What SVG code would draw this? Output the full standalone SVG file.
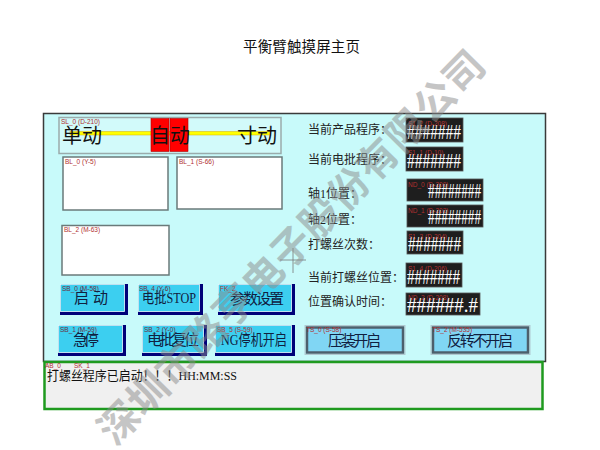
<svg xmlns="http://www.w3.org/2000/svg" width="600" height="450" viewBox="0 0 600 450">
<style>
.cn{font-family:"Liberation Serif","Noto Sans CJK SC",serif;fill:#111;}
.lbl{font-family:"Liberation Sans",sans-serif;font-size:6.5px;fill:#b03030;}
.slbl{font-family:"Liberation Sans",sans-serif;font-size:6.5px;fill:#6a3040;}
.hash{font-family:"Liberation Serif",serif;font-size:21px;fill:#fff;}
.disp{fill:#1e1e1e;stroke:#555;stroke-width:0.8;}
.bl{fill:#fff;stroke:#6a7a7a;stroke-width:1.5;}
.sbo{fill:#000078;}
.sbi{fill:#3ccff0;stroke:#e8ffff;stroke-width:0.8;}
.ts{fill:#80d6f4;stroke:#4d5f6c;stroke-width:2.5;}
.tso{fill:none;stroke:#b0c8d0;stroke-width:1;}
.btxt{font-size:15px;fill:#102040;}
.rl{font-size:12px;fill:#222;}
</style>
<rect width="600" height="450" fill="#fff"/>
<text class="cn" x="243" y="52" font-size="14.5" textLength="117">平衡臂触摸屏主页</text>

<g id="panel">
<rect x="43.5" y="113.5" width="502" height="248" fill="#c8fafa" stroke="#3a3a3a" stroke-width="1.5"/>
</g>

<g id="sl0">
<rect x="59" y="117.5" width="222" height="36" fill="#d2fafa" stroke="#9aabab" stroke-width="1.5"/>
<rect x="70" y="131.5" width="200" height="3.5" fill="#ffff00" stroke="#d8b000" stroke-width="0.5"/>
<rect x="151" y="118.5" width="18" height="33" fill="#ff0000" stroke="#b00000" stroke-width="0.6"/>
<rect x="170" y="118.5" width="18" height="33" fill="#ff0000" stroke="#b00000" stroke-width="0.6"/>
<text class="cn" x="62" y="143" font-size="20">单动</text>
<text class="cn" x="150" y="143" font-size="20">自动</text>
<text class="cn" x="237" y="143" font-size="20">寸动</text>
<text class="lbl" x="61" y="124">SL_0 (D-210)</text>
</g>

<g id="bl0"><rect class="bl" x="63" y="157" width="105" height="53"/><text class="lbl" x="65" y="164">BL_0 (Y-5)</text></g>
<g id="bl1"><rect class="bl" x="177" y="157" width="105" height="52"/><text class="lbl" x="179" y="164">BL_1 (S-66)</text></g>
<g id="bl2"><rect class="bl" x="62" y="225.5" width="107" height="49.5"/><text class="lbl" x="64" y="232">BL_2 (M-63)</text></g>

<g id="labels">
<text class="cn rl" x="308" y="134">当前产品程序：</text>
<text class="cn rl" x="308" y="164">当前电批程序：</text>
<text class="cn rl" x="308" y="198">轴1位置：</text>
<text class="cn rl" x="308" y="224">轴2位置：</text>
<text class="cn rl" x="308" y="249">打螺丝次数：</text>
<text class="cn rl" x="308" y="282">当前打螺丝位置：</text>
<text class="cn rl" x="308" y="306">位置确认时间：</text>
</g>

<g id="d1"><rect class="disp" x="406" y="118" width="57" height="24"/><text class="lbl" x="408" y="126" fill="#d02020">S1_2 (D-208)</text><text class="hash" x="407" y="139" textLength="54" lengthAdjust="spacingAndGlyphs">#######</text></g>
<g id="d2"><rect class="disp" x="406" y="147" width="57" height="24"/><text class="lbl" x="408" y="155">S1_1 (D-10)</text><text class="hash" x="407" y="168" textLength="54" lengthAdjust="spacingAndGlyphs">#######</text></g>
<g id="d3"><rect class="disp" x="407" y="179" width="76" height="22"/><text class="lbl" x="408" y="187">ND_0 (D-200)</text><text class="hash" x="428" y="198" textLength="53" lengthAdjust="spacingAndGlyphs">########</text></g>
<g id="d4"><rect class="disp" x="407" y="205" width="76" height="22"/><text class="lbl" x="408" y="213">ND_1 (D-202)</text><text class="hash" x="428" y="224" textLength="53" lengthAdjust="spacingAndGlyphs">########</text></g>
<g id="d5"><rect class="disp" x="407" y="231" width="56" height="23"/><text class="lbl" x="408" y="239">S1_3 (D-204)</text><text class="hash" x="408" y="251" textLength="53" lengthAdjust="spacingAndGlyphs">#######</text></g>
<g id="d6"><rect class="disp" x="406" y="263" width="56" height="24"/><text class="lbl" x="408" y="271">S1_4 (D-206)</text><text class="hash" x="407" y="284" textLength="53" lengthAdjust="spacingAndGlyphs">#######</text></g>
<g id="d7"><rect class="disp" x="406" y="293" width="74" height="22"/><text class="lbl" x="408" y="300">ND_2 (D-208)</text><text class="hash" x="407" y="312" textLength="71" lengthAdjust="spacingAndGlyphs">######.#</text></g>

<g id="sb0"><rect class="sbo" x="60" y="284" width="68" height="31"/><rect class="sbi" x="60.5" y="284.5" width="64" height="27"/><text class="slbl" x="62" y="291">SB_0 (M-58)</text><text class="cn btxt" x="74" y="303" textLength="34">启 动</text></g>
<g id="sb4"><rect class="sbo" x="138" y="284" width="65" height="31"/><rect class="sbi" x="138.5" y="284.5" width="61" height="27"/><text class="slbl" x="139" y="291">SB_4 (Y-6)</text><text class="cn btxt" x="142" y="303" textLength="54" lengthAdjust="spacingAndGlyphs">电批STOP</text></g>
<g id="fk2"><rect class="sbo" x="218" y="284" width="77" height="31"/><rect class="sbi" x="218.5" y="284.5" width="73" height="27"/><text class="lbl" x="220" y="291">FK_2</text><text class="cn btxt" x="230" y="304" textLength="54">参数设置</text></g>
<g id="sb1"><rect class="sbo" x="58" y="325" width="68" height="31"/><rect class="sbi" x="58.5" y="325.5" width="64" height="27"/><text class="slbl" x="60" y="332">SB_1 (M-59)</text><text class="cn btxt" x="73" y="345" textLength="26">急停</text></g>
<g id="sb2"><rect class="sbo" x="142" y="325" width="65" height="31"/><rect class="sbi" x="142.5" y="325.5" width="61" height="27"/><text class="slbl" x="144" y="332">SB_2 (Y-0)</text><text class="cn btxt" x="147" y="345" textLength="52">电批复位</text></g>
<g id="sb5"><rect class="sbo" x="215" y="325" width="80" height="31"/><rect class="sbi" x="215.5" y="325.5" width="76" height="27"/><text class="lbl" x="217" y="332">SB_5 (S-59)</text><text class="cn btxt" x="221" y="345" textLength="66" lengthAdjust="spacingAndGlyphs">NG停机开启</text></g>

<g id="ts0"><rect class="tso" x="305" y="325.5" width="100" height="29"/><rect class="ts" x="307" y="327.5" width="96" height="25"/><text class="lbl" x="306" y="332">TS_0 (S-58)</text><text class="cn btxt" x="328" y="346" textLength="53">压装开启</text></g>
<g id="ts2"><rect class="tso" x="431" y="325.5" width="99" height="29"/><rect class="ts" x="433" y="327.5" width="95" height="25"/><text class="lbl" x="432" y="332">TS_2 (M-535)</text><text class="cn btxt" x="447" y="346" textLength="66">反转不开启</text></g>

<g id="msg">
<rect x="44.5" y="362" width="498" height="47" fill="#f0f0f0" stroke="#1f9a1f" stroke-width="2.5"/>
<text class="lbl" x="45" y="368" fill="#d02020">AB_0</text><text class="lbl" x="74" y="368" fill="#d02020">SK_1</text>
<text class="cn" x="47" y="380" font-size="13" textLength="190" lengthAdjust="spacingAndGlyphs">打螺丝程序已启动！！！HH:MM:SS</text>
</g>

<g id="cross" stroke="#777" stroke-width="0.8">
<line x1="280" y1="260" x2="306" y2="260"/><line x1="293" y1="248" x2="293" y2="273"/>
</g>

<g id="watermark" opacity="0.5">
<text x="292" y="261" transform="rotate(-45.5 292 247)" text-anchor="middle" font-family="Noto Sans CJK SC, sans-serif" font-size="40" font-weight="bold" letter-spacing="1" fill="#8c8c8c">深圳市路亨电子股份有限公司</text>
</g>
</svg>
